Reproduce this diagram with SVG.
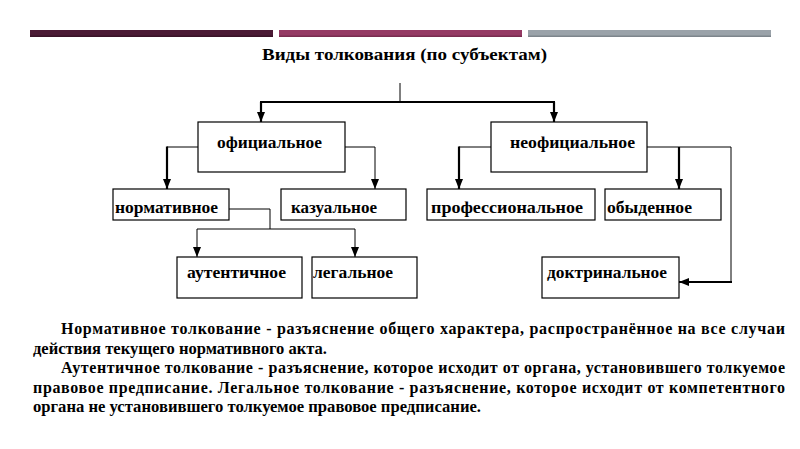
<svg xmlns="http://www.w3.org/2000/svg" width="800" height="449" viewBox="0 0 800 449">
<style>
.box{fill:#fff;stroke:#000;stroke-width:1.2}
.lbl{font-family:"Liberation Serif","DejaVu Serif",serif;font-weight:bold;font-size:17px;fill:#000}
.thin{stroke:#000;stroke-width:1;fill:none}
.thick{stroke:#000;stroke-width:2.2;fill:none}
.para{font-family:"Liberation Serif","DejaVu Serif",serif;font-weight:bold;font-size:16px;fill:#000}
</style>
<defs>
<marker id="ah" markerUnits="userSpaceOnUse" markerWidth="10" markerHeight="10" viewBox="0 0 10 10" refX="10" refY="5" orient="auto">
<path d="M0,1 L10,5 L0,9 Z" fill="#000"/>
</marker>
</defs>
<rect x="30" y="30" width="243" height="7" fill="#4b1a35"/>
<rect x="30" y="35.5" width="243" height="1.5" fill="#3a1228"/>
<rect x="279" y="30" width="243" height="7" fill="#953a64"/>
<rect x="279" y="35.5" width="243" height="1.5" fill="#7a2c50"/>
<rect x="528" y="30" width="243" height="7" fill="#9aa2a9"/>
<rect x="528" y="35.5" width="243" height="1.5" fill="#7d858c"/>
<text x="262" y="60" class="lbl" font-size="18" textLength="285" lengthAdjust="spacingAndGlyphs">Виды толкования (по субъектам)</text>
<g id="connectors">
<line class="thin" x1="400" y1="83" x2="400" y2="102"/>
<line class="thick" x1="260" y1="102" x2="555" y2="102"/>
<line class="thick" x1="261" y1="102" x2="261" y2="122" marker-end="url(#ah)"/>
<line class="thick" x1="554" y1="102" x2="554" y2="122" marker-end="url(#ah)"/>
<line class="thin" x1="198" y1="147" x2="167" y2="147"/>
<line class="thick" x1="167" y1="146.5" x2="167" y2="189" marker-end="url(#ah)"/>
<path class="thin" d="M345,147 H375 V189" marker-end="url(#ah)"/>
<line class="thin" x1="491" y1="147" x2="459" y2="147"/>
<line class="thick" x1="459" y1="146.5" x2="459" y2="189" marker-end="url(#ah)"/>
<path class="thin" d="M647,147 H731 V282"/>
<line class="thick" x1="679" y1="147" x2="679" y2="189" marker-end="url(#ah)"/>
<line class="thick" x1="732" y1="282" x2="679" y2="282" marker-end="url(#ah)"/>
<path class="thin" d="M229,209 H270 V229"/>
<line class="thin" x1="197" y1="229" x2="355" y2="229"/>
<line class="thin" x1="197" y1="229" x2="197" y2="257" marker-end="url(#ah)"/>
<line class="thin" x1="355" y1="229" x2="355" y2="257" marker-end="url(#ah)"/>
</g>
<g id="n-official"><rect class="box" x="198" y="122" width="147" height="50"/><text class="lbl" x="217" y="148" textLength="105" lengthAdjust="spacingAndGlyphs">официальное</text></g>
<g id="n-unofficial"><rect class="box" x="491" y="122" width="156" height="50"/><text class="lbl" x="510" y="148" textLength="125" lengthAdjust="spacingAndGlyphs">неофициальное</text></g>
<g id="n-normative"><rect class="box" x="113" y="189" width="116" height="31"/><text class="lbl" x="115" y="213" textLength="103" lengthAdjust="spacingAndGlyphs">нормативное</text></g>
<g id="n-casual"><rect class="box" x="281" y="189" width="125" height="31"/><text class="lbl" x="291" y="213" textLength="86" lengthAdjust="spacingAndGlyphs">казуальное</text></g>
<g id="n-professional"><rect class="box" x="427" y="189" width="168" height="31"/><text class="lbl" x="431" y="213" textLength="152" lengthAdjust="spacingAndGlyphs">профессиональное</text></g>
<g id="n-everyday"><rect class="box" x="605" y="189" width="116" height="31"/><text class="lbl" x="607" y="213" textLength="85" lengthAdjust="spacingAndGlyphs">обыденное</text></g>
<g id="n-authentic"><rect class="box" x="177" y="257" width="125" height="41"/><text class="lbl" x="187" y="278" textLength="99" lengthAdjust="spacingAndGlyphs">аутентичное</text></g>
<g id="n-legal"><rect class="box" x="312" y="257" width="105" height="41"/><text class="lbl" x="313" y="278" textLength="80" lengthAdjust="spacingAndGlyphs">легальное</text></g>
<g id="n-doctrinal"><rect class="box" x="542" y="257" width="137" height="41"/><text class="lbl" x="547" y="278" textLength="120" lengthAdjust="spacingAndGlyphs">доктринальное</text></g>
<text class="para" x="61" y="334" textLength="724" lengthAdjust="spacing">Нормативное толкование - разъяснение общего характера, распространённое на все случаи</text>
<text class="para" x="33" y="354" textLength="294" lengthAdjust="spacingAndGlyphs">действия текущего нормативного акта.</text>
<text class="para" x="61" y="373" textLength="724" lengthAdjust="spacing">Аутентичное толкование - разъяснение, которое исходит от органа, установившего толкуемое</text>
<text class="para" x="33" y="393" textLength="752" lengthAdjust="spacing">правовое предписание. Легальное толкование - разъяснение, которое исходит от компетентного</text>
<text class="para" x="33" y="412" textLength="448" lengthAdjust="spacingAndGlyphs">органа не установившего толкуемое правовое предписание.</text>
</svg>
